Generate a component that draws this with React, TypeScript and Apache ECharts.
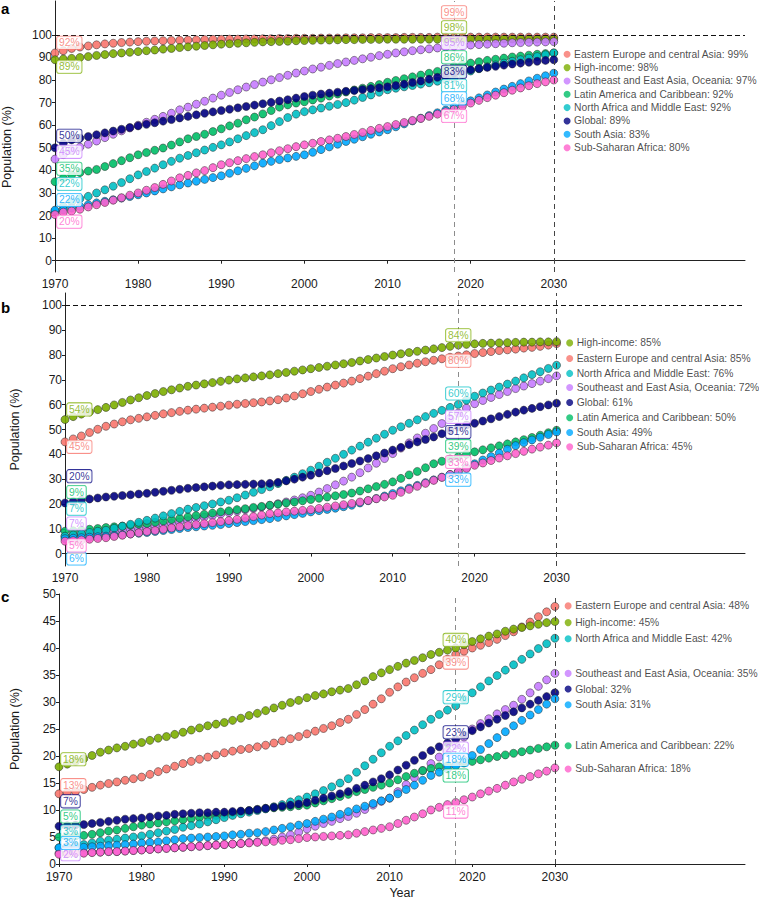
import React, { useEffect, useRef } from "react";
import * as echarts from "echarts";

const YEARS = Array.from({ length: 61 }, (_, i) => 1970 + i);
const X_TICKS = [1970, 1980, 1990, 2000, 2010, 2020, 2030];
const Y_TICKS_AB = [0, 10, 20, 30, 40, 50, 60, 70, 80, 90, 100];
const Y_TICKS_C = [0, 5, 10, 15, 20, 25, 30, 35, 40, 45, 50];
const MID_YEAR = 2018;
const END_YEAR = 2030;

const KEYS = ["EE", "HI", "SE", "LA", "NA", "GL", "SA", "SSA"];
const NAMES: Record<string, string> = {
  EE: "Eastern Europe and central Asia",
  HI: "High-income",
  SE: "Southeast and East Asia, Oceania",
  LA: "Latin America and Caribbean",
  NA: "North Africa and Middle East",
  GL: "Global",
  SA: "South Asia",
  SSA: "Sub-Saharan Africa",
};
const COLORS: Record<string, string> = {
  EE: "#F8766D",
  HI: "#7CAE00",
  SE: "#C77CFF",
  LA: "#00BE67",
  NA: "#00BFC4",
  GL: "#000080",
  SA: "#00A9FF",
  SSA: "#FF61CC",
};

// ---------- Panel a ----------
const aEE = [92,93,94,94.6,95.1,95.6,96,96.3,96.6,96.8, 97,97.2,97.3,97.4,97.5,97.6,97.7,97.8,97.9,98, 98,98.1,98.1,98.2,98.2,98.3,98.3,98.4,98.4,98.5, 98.5,98.5,98.6,98.6,98.6,98.7,98.7,98.7,98.8,98.8, 98.8,98.8,98.9,98.9,98.9,98.9,99,99,99,99, 99,99,99,99,99,99,99,99,99,99,99];
const aHI = [89,89.3,89.6,90,90.4,90.9,91.3,91.7,92,92.3, 92.6,93,93.3,93.7,94,94.4,94.7,95,95.3,95.6, 95.9,96.1,96.3,96.5,96.7,96.9,97,97.1,97.2,97.4, 97.5,97.6,97.7,97.7,97.8,97.9,97.9,98,98,98, 98.1,98.1,98.1,98.1,98.1,98.1,98.1,98.1,98.1,98.1, 98.1,98.1,98.1,98.2,98.2,98.2,98.2,98.2,98.2,98.2,98.2];
const aSE = [45,47,48.8,50.3,51.6,53,54.5,56,57.5,58.8, 60,61.3,62.6,63.9,65.3,66.8,68,69.3,70.6,72, 73.3,74.5,75.7,76.9,78,79.1,80.1,81.1,82.1,83.1, 84,84.9,85.7,86.5,87.3,88,88.7,89.4,90.1,90.8, 91.4,92,92.5,93,93.4,93.8,94.2,94.6,95,95.3, 95.5,95.7,95.9,96.1,96.3,96.5,96.6,96.7,96.8,96.9,97];
const aLA = [35,36.5,38,39,39.7,40.4,41.7,43,44.3,45.6, 46.9,47.9,48.9,49.9,51.2,52.6,54,55,56,57.2, 58.4,59.7,60.9,62.4,63.6,65,66.5,68,69,69.8, 70.4,71.2,72,72.9,73.8,74.7,75.6,76.4,77.2,78, 79,79.8,80.6,81.4,82.2,83,83.8,84.9,86,86.8, 87.5,88.1,88.7,89.2,89.7,90.2,90.6,91,91.4,91.7,92];
const aNA = [22,24,26,27.5,28.5,30,31.4,33,34.6,36.3, 38,39.5,41,42.5,44,45.4,46.6,47.8,49,50.2, 51.3,52.6,54,55.4,56.7,58,59.8,61.6,63.4,64.9, 66,66.8,67.6,68.4,69.2,70,71.1,72.3,73.4,74.6, 75.7,76.4,77,77.6,78.2,78.8,79.5,80.2,81,82.5, 84,85,85.9,86.7,87.5,88.3,89,89.7,90.4,91.2,92];
const aGL = [50,52,53.5,54.3,55,55.8,56.6,57.4,58.2,59, 59.7,60.4,61.1,61.8,62.5,63.2,63.9,64.6,65.3,65.9, 66.5,67.1,67.7,68.3,68.9,69.5,70.1,70.7,71.3,72, 72.7,73.3,73.8,74.2,74.6,75,75.4,75.8,76.2,76.6, 77,77.6,78.2,78.9,79.6,80.4,81.2,82,83,83.8, 84.5,85.1,85.6,86.1,86.6,87.1,87.5,87.9,88.3,88.7,89];
const aSA = [22.4,22.5,23.3,24,24.8,25.6,26.3,27,27.7,28.4, 29.2,30,30.9,31.8,32.7,33.6,34.4,35.2,36,36.8, 37.6,38.7,39.8,40.9,42,43.2,44,44.8,45.5,46.2, 46.9,48,49.2,50.4,51.6,52.8,53.8,54.9,56,57, 58,59.3,60.6,61.9,63.1,64.3,65.5,66.7,68,69.4, 70.8,72.1,73.4,74.7,76,77.2,78.4,79.6,80.8,81.9,83];
const aSSA = [20.4,21.5,22,22.8,23.8,24.8,25.8,26.8,27.9,29, 30,31.2,32.4,33.8,35.3,36.7,37.8,38.9,39.9,41.2, 42.5,43.4,44.3,45.2,46.1,46.9,47.8,48.7,49.6,50.5, 51.3,52,52.8,53.5,54.2,55,55.9,56.8,57.7,58.6, 59.4,60.3,61.2,62.1,63,63.9,64.9,66,67,68.4, 69.8,71,72.2,73.3,74.4,75.5,76.5,77.5,78.4,79.2,80];

// ---------- Panel b ----------
const bHI = [54,55.2,56.2,57.1,58,58.9,59.9,60.9,61.9,62.8, 63.7,64.5,65.3,66,66.7,67.4,67.9,68.4,68.9,69.4, 69.9,70.4,70.8,71.2,71.6,72,72.5,73,73.5,74, 74.5,75,75.5,76,76.5,77,77.6,78.2,78.8,79.4, 80,80.5,81,81.5,82,82.5,83,83.5,84,84.3, 84.5,84.7,84.8,84.9,85,85.1,85.2,85.2,85.3,85.3,85.4];
const bEE = [45,46.2,47.4,48.8,50.1,51.3,52.2,53.1,53.9,54.5, 55.1,55.7,56.3,56.8,57.3,57.8,58.2,58.6,59,59.4, 59.8,60.2,60.5,60.8,61.1,61.5,62,62.7,63.5,64.4, 65.3,66.2,67.1,67.9,68.7,69.5,70.5,71.5,72.5,73.5, 74.5,75.3,76,76.7,77.3,77.9,78.5,79.1,79.6,80.1, 80.6,81,81.4,81.8,82.1,82.4,82.8,83.1,83.5,84,84.6];
const bGL = [20.4,21,21.5,22,22.4,22.8,23.1,23.4,23.7,24, 24.3,24.7,25.1,25.5,25.9,26.3,26.6,26.9,27.2,27.5, 27.7,27.8,27.9,28,28.1,28.3,28.7,29.3,30,30.8, 31.6,32.5,33.4,34.3,35.3,36.3,37.3,38.3,39.4,40.5, 41.7,42.8,43.9,45,46,47,48.3,49.7,51,51.8, 52.5,53.4,54.3,55.2,56.1,57,57.8,58.5,59.2,59.9,60.6];
const bNA = [7,7.5,8,8.5,9,9.4,10.2,11,11.8,12.6, 13.4,14.3,15.2,16.1,17,17.9,18.6,19.3,20,20.8, 21.5,22.5,23.6,24.7,25.8,26.9,28.2,29.5,30.8,32.2, 33.6,35.2,36.8,38.4,40,41.7,43.3,44.9,46.5,48.1, 49.7,51.1,52.5,53.9,55.2,56.5,57.7,58.9,60.1,61.8, 63.4,64.7,65.9,67.1,68.3,69.5,70.8,72.1,73.3,74.6,75.9];
const bSE = [7,7.3,7.6,7.9,8.2,8.5,8.9,9.3,9.7,10.1, 10.5,11,11.5,12.1,12.7,13.3,14,14.7,15.3,15.9, 16.5,17.1,17.7,18.2,18.8,19.4,20.1,20.8,21.6,22.5, 23.5,24.8,26.2,27.7,29.2,30.8,32.6,34.5,36.4,38.3, 40.3,42.5,44.6,46.6,48.5,50.4,52.4,54.5,56.6,58.6, 60.4,61.7,62.9,64.1,65.3,66.5,67.5,68.5,69.5,70.5,71.6];
const bLA = [9,9.2,9.4,9.8,10.1,10.5,10.8,11.1,11.4,11.8, 12.1,12.6,13.1,13.7,14.2,14.8,15.3,15.8,16.3,16.8, 17.2,17.7,18.1,18.6,19,19.5,19.9,20.4,20.8,21.3, 21.8,22.3,22.8,23.3,23.8,24.4,25.2,26.1,27,27.9, 28.9,30.3,31.7,33.1,34.6,36.2,37.2,38.1,39,40, 41,41.8,42.6,43.4,44.2,45,45.9,46.8,47.7,48.7,49.7];
const bSA = [6,6.2,6.4,6.6,6.8,7,7.3,7.6,7.9,8.2, 8.5,8.9,9.3,9.7,10.1,10.5,10.8,11.1,11.4,11.7, 12.1,12.5,12.9,13.3,13.7,14.1,14.6,15.2,15.7,16.2, 16.8,17.3,17.8,18.3,18.9,19.5,20.4,21.3,22.2,23.2, 24.2,25.3,26.4,27.5,28.6,29.7,30.8,31.9,33,34.6, 36.2,37.7,39.1,40.5,42,43.5,44.7,45.8,46.9,48,49];
const bSSA = [5,5.2,5.5,5.8,6.1,6.4,6.9,7.4,7.9,8.4, 8.9,9.3,9.8,10.3,10.8,11.3,11.7,12.1,12.5,12.9, 13.3,13.8,14.3,14.9,15.5,16.1,16.4,16.8,17.1,17.4, 17.7,18.2,18.7,19.2,19.7,20.2,20.8,21.4,22.1,22.8, 23.5,24.7,25.9,27.1,28.3,29.5,30.7,31.9,33,34.3, 35.6,36.5,37.5,38.5,39.4,40.3,41.2,42.1,42.9,43.7,44.6];

// ---------- Panel c ----------
const cHI = [18,18.5,19,19.5,20.1,20.7,21.1,21.5,21.8,22.2, 22.5,22.9,23.3,23.6,24,24.4,24.8,25.2,25.6,25.9, 26.2,26.6,27,27.5,27.9,28.4,28.9,29.4,29.9,30.3, 30.8,31.2,31.5,31.9,32.2,32.5,33.2,33.9,34.7,35.4, 36,36.6,37.2,37.7,38.2,38.8,39.2,39.6,40,40.6, 41.2,41.7,42.2,42.6,43.1,43.5,43.8,44.1,44.4,44.7,44.9];
const cEE = [13,13.2,13.4,13.8,14.2,14.6,14.9,15.2,15.5,15.8, 16.1,16.6,17.1,17.6,18.1,18.6,19,19.4,19.8,20.2, 20.6,20.9,21.2,21.4,21.7,22,22.4,22.8,23.2,23.6, 24.1,24.6,25.1,25.6,26.2,26.8,27.7,28.6,29.6,30.6, 31.8,32.8,33.7,34.5,35.3,36,36.9,37.9,38.8,39.4, 40,40.5,41,41.6,42.3,43,43.9,44.8,45.8,46.7,47.7];
const cNA = [3,3.2,3.4,3.6,3.9,4.2,4.4,4.6,4.8,5, 5.2,5.5,5.8,6.1,6.4,6.8,7.1,7.4,7.8,8.2, 8.6,9,9.3,9.6,9.9,10.2,10.6,11,11.5,11.9, 12.4,13,13.6,14.3,15,15.8,17,18.2,19.4,20.6, 21.8,22.8,23.8,24.8,25.8,26.8,27.7,28.5,29.3,30.5, 31.7,32.8,33.9,34.9,35.9,36.9,37.9,38.9,39.9,40.8,41.8];
const cGL = [7,7.1,7.2,7.3,7.5,7.7,7.9,8.1,8.3,8.4, 8.5,8.7,8.9,9,9.2,9.3,9.4,9.5,9.5,9.6, 9.6,9.7,9.8,9.9,10.1,10.3,10.5,10.7,10.9,11.1, 11.4,11.8,12.2,12.6,13,13.4,14,14.6,15.2,15.8, 16.5,17.4,18.3,19.2,20.1,21,21.7,22.4,23.1,23.9, 24.7,25.4,26.1,26.8,27.5,28.2,28.9,29.6,30.3,31,31.7];
const cLA = [5,5.1,5.2,5.3,5.5,5.8,6.1,6.3,6.6,6.9, 7.2,7.4,7.6,7.8,8,8.2,8.4,8.6,8.8,9, 9.2,9.5,9.7,9.9,10.1,10.3,10.4,10.5,10.6,10.8, 10.9,11.3,11.7,12.1,12.5,12.9,13.4,13.8,14.2,14.6, 15,15.6,16.2,16.8,17.3,17.7,18,18.2,18.4,18.7, 19,19.3,19.6,19.9,20.2,20.5,20.8,21.1,21.4,21.7,22];
const cSA = [3,3,3.1,3.1,3.2,3.3,3.4,3.5,3.6,3.7, 3.9,4,4.1,4.3,4.5,4.7,4.8,4.9,5,5.1, 5.2,5.4,5.5,5.7,5.8,6,6.3,6.6,6.9,7.2, 7.5,7.9,8.3,8.7,9.2,9.7,10.2,10.7,11.2,11.7, 12.2,13,13.8,14.6,15.5,16.4,17,17.6,18.2,19.2, 20.1,21.2,22.3,23.4,24.5,25.6,26.6,27.6,28.6,29.6,30.6];
const cSE = [2,2,2.1,2.1,2.2,2.2,2.3,2.3,2.4,2.5, 2.6,2.7,2.8,2.9,3,3.1,3.2,3.3,3.4,3.5, 3.6,3.7,3.8,4,4.1,4.3,4.6,5,5.4,5.9, 6.5,7,7.5,7.9,8.4,8.8,9.4,10.1,10.9,11.6, 12.2,13.4,14.7,16,17.3,18.6,19.8,20.9,22,23.5, 25,26,26.9,27.8,28.6,29.4,30.5,31.7,32.9,34.1,35.3];
const cSSA = [1.8,1.9,2,2,2.1,2.2,2.3,2.3,2.4,2.5, 2.6,2.7,2.8,2.9,3,3.1,3.2,3.3,3.4,3.5, 3.6,3.7,3.8,3.9,4,4.1,4.2,4.4,4.5,4.7, 4.9,5,5.1,5.2,5.3,5.4,5.7,6,6.3,6.6, 6.9,7.5,8.1,8.7,9.3,10,10.5,11,11.4,11.9, 12.4,13,13.5,14,14.6,15.2,15.7,16.2,16.7,17.2,17.8];

// Repelled label anchors (data units on each panel's y axis)
const aStartLabelAt: Record<string, number | null> = { EE: 96.5, HI: 85.9, SE: 48.2, LA: 40.7, NA: 34.0, GL: 55.3, SA: 26.9, SSA: 17.3 };
const aMidLabelAt: Record<string, number | null> = { EE: 110, HI: 103.4, SE: 96.5, LA: 90.1, NA: 77.5, GL: 83.7, SA: 71.9, SSA: 64.1 };
const aLegendAt: Record<string, number> = { EE: 91.4, HI: 85.5, SE: 79.6, LA: 73.7, NA: 67.8, GL: 61.9, SA: 56.0, SSA: 50.0 };

const bStartLabelAt: Record<string, number | null> = { EE: 43, HI: 58.1, SE: 12.1, LA: 24.8, NA: 18.1, GL: 31.2, SA: -2, SSA: 3.3 };
const bMidLabelAt: Record<string, number | null> = { EE: 77.7, HI: 88, SE: 55.1, LA: 43.3, NA: 64.5, GL: 49, SA: 29.8, SSA: 36.9 };
const bLegendAt: Record<string, number> = { EE: 78.6, HI: 84.9, SE: 66.9, LA: 54.7, NA: 72.6, GL: 60.9, SA: 48.8, SSA: 43.0 };

const cStartLabelAt: Record<string, number | null> = { EE: 14.6, HI: 19.4, SE: 1.8, LA: 8.8, NA: 6.0, GL: 11.6, SA: 3.9, SSA: null };
const cMidLabelAt: Record<string, number | null> = { EE: 37.3, HI: 41.5, SE: 21.4, LA: 16.4, NA: 30.9, GL: 24.4, SA: 19.3, SSA: 9.7 };
const cLegendAt: Record<string, number> = { EE: 47.8, HI: 44.7, SE: 35.3, LA: 21.9, NA: 41.7, GL: 32.4, SA: 29.5, SSA: 17.6 };

const FONT = "'Liberation Sans', Arial, Helvetica, sans-serif";
const Y_TITLE = "Population (%)";

type Panel = {
  letter: string;
  values: Record<string, number[]>;
  startAt: Record<string, number | null>;
  midAt: Record<string, number | null>;
  legendAt: Record<string, number>;
  yMin: number;
  yMax: number;
  yTicks: number[];
  grid: { left: number; top: number; width: number; height: number };
  nameGap: number;
  hundred: boolean;
  showYear: boolean;
  letterTop: number;
  xLabelMargin: number;
  titleAsGraphic?: { x: number; y: number };
};

const PANELS: Panel[] = [
  {
    letter: "a",
    values: { EE: aEE, HI: aHI, SE: aSE, LA: aLA, NA: aNA, GL: aGL, SA: aSA, SSA: aSSA },
    startAt: aStartLabelAt, midAt: aMidLabelAt, legendAt: aLegendAt,
    yMin: -5, yMax: 115, yTicks: Y_TICKS_AB,
    grid: { left: 55, top: 1, width: 690, height: 271 },
    nameGap: 44, hundred: true, showYear: false, letterTop: 1, xLabelMargin: 6,
    titleAsGraphic: { x: 7, y: 147 },
  },
  {
    letter: "b",
    values: { EE: bEE, HI: bHI, SE: bSE, LA: bLA, NA: bNA, GL: bGL, SA: bSA, SSA: bSSA },
    startAt: bStartLabelAt, midAt: bMidLabelAt, legendAt: bLegendAt,
    yMin: -5, yMax: 105, yTicks: Y_TICKS_AB,
    grid: { left: 55, top: 293, width: 690, height: 273 },
    nameGap: 44, hundred: true, showYear: false, letterTop: 300, xLabelMargin: 6,
  },
  {
    letter: "c",
    values: { EE: cEE, HI: cHI, SE: cSE, LA: cLA, NA: cNA, GL: cGL, SA: cSA, SSA: cSSA },
    startAt: cStartLabelAt, midAt: cMidLabelAt, legendAt: cLegendAt,
    yMin: 0, yMax: 50, yTicks: Y_TICKS_C,
    grid: { left: 48.5, top: 594, width: 696.5, height: 272 },
    nameGap: 38, hundred: false, showYear: true, letterTop: 589, xLabelMargin: 7,
  },
];

function boxLabel(color: string, text: string, position: string) {
  return {
    show: true,
    position,
    distance: 2,
    formatter: text,
    color,
    fontSize: 10.3,
    fontFamily: FONT,
    lineHeight: 10,
    backgroundColor: "#ffffff",
    borderColor: color,
    borderWidth: 0.8,
    borderRadius: 2,
    padding: [1.5, 2, 1, 2],
  };
}

function buildOption() {
  const series: any[] = [];
  const xAxis: any[] = [];
  const yAxis: any[] = [];
  const grid: any[] = [];
  const graphic: any[] = [];
  const midIdx = YEARS.indexOf(MID_YEAR);
  const endIdx = YEARS.indexOf(END_YEAR);

  PANELS.forEach((p, pi) => {
    grid.push({ ...p.grid, containLabel: false });
    xAxis.push({
      type: "value",
      gridIndex: pi,
      min: 1970,
      max: 2053,
      name: p.showYear ? "Year" : "",
      nameLocation: "middle",
      nameGap: 22,
      nameTextStyle: { fontSize: 12.5, color: "#1a1a1a", fontFamily: FONT },
      axisLine: { show: true, lineStyle: { color: "#222", width: 1 } },
      axisTick: { show: true, length: 3, customValues: X_TICKS, lineStyle: { color: "#222" } },
      axisLabel: {
        customValues: X_TICKS,
        formatter: (v: number) => String(v),
        fontSize: 12,
        lineHeight: 12,
        color: "#1a1a1a",
        margin: p.xLabelMargin,
        fontFamily: FONT,
      },
      splitLine: { show: false },
    });
    yAxis.push({
      type: "value",
      gridIndex: pi,
      min: p.yMin,
      max: p.yMax,
      name: p.titleAsGraphic ? "" : Y_TITLE,
      nameLocation: "middle",
      nameGap: p.nameGap,
      nameTextStyle: { fontSize: 12.5, color: "#1a1a1a", fontFamily: FONT },
      axisLine: { show: true, lineStyle: { color: "#222", width: 1 } },
      axisTick: { show: true, length: 3, customValues: p.yTicks, lineStyle: { color: "#222" } },
      axisLabel: {
        customValues: p.yTicks,
        formatter: (v: number) => String(v),
        fontSize: 12,
        lineHeight: 10,
        color: "#1a1a1a",
        margin: 3,
        fontFamily: FONT,
      },
      splitLine: { show: false },
    });
    if (p.titleAsGraphic) {
      graphic.push({
        type: "text",
        x: p.titleAsGraphic.x,
        y: p.titleAsGraphic.y,
        rotation: Math.PI / 2,
        style: {
          text: Y_TITLE,
          fontSize: 12.5,
          fill: "#1a1a1a",
          fontFamily: FONT,
          align: "center",
          verticalAlign: "middle",
        },
      });
    }

    // reference lines
    const ml: any[] = [
      { xAxis: MID_YEAR, lineStyle: { color: "#8c8c8c", type: [5, 4], width: 1 } },
      { xAxis: END_YEAR, lineStyle: { color: "#444", type: [5, 4], width: 1 } },
    ];
    if (p.hundred) ml.push({ yAxis: 100, lineStyle: { color: "#111", type: [5, 3], width: 1 } });
    series.push({
      type: "line",
      name: `ref-${p.letter}`,
      xAxisIndex: pi,
      yAxisIndex: pi,
      data: [],
      silent: true,
      z: 1,
      markLine: { symbol: ["none", "none"], silent: true, label: { show: false }, data: ml, animation: false },
    });

    // dots
    KEYS.forEach((k) => {
      const vals = p.values[k];
      series.push({
        type: "scatter",
        name: `${NAMES[k]} (${p.letter})`,
        xAxisIndex: pi,
        yAxisIndex: pi,
        data: YEARS.map((y, i) => [y, vals[i]]),
        symbol: "circle",
        symbolSize: 8,
        clip: false,
        silent: true,
        z: 3,
        itemStyle: { color: COLORS[k], opacity: 0.9, borderColor: "rgba(30,30,30,0.75)", borderWidth: 0.7 },
      });
    });

    // start-year labels
    series.push({
      type: "scatter",
      name: `start-labels-${p.letter}`,
      xAxisIndex: pi,
      yAxisIndex: pi,
      symbolSize: 0,
      silent: true,
      clip: false,
      z: 10,
      data: KEYS.filter((k) => p.startAt[k] != null).map((k) => ({
        value: [YEARS[0], p.startAt[k]],
        label: boxLabel(COLORS[k], `${Math.round(p.values[k][0])}%`, "right"),
      })),
    });
    // 2018 labels
    series.push({
      type: "scatter",
      name: `mid-labels-${p.letter}`,
      xAxisIndex: pi,
      yAxisIndex: pi,
      symbolSize: 0,
      silent: true,
      clip: false,
      z: 10,
      data: KEYS.filter((k) => p.midAt[k] != null).map((k) => ({
        value: [MID_YEAR, p.midAt[k]],
        label: boxLabel(COLORS[k], `${Math.round(p.values[k][midIdx])}%`, "inside"),
      })),
    });
    // legend entries (placed right of 2030)
    series.push({
      type: "scatter",
      name: `legend-${p.letter}`,
      xAxisIndex: pi,
      yAxisIndex: pi,
      symbol: "circle",
      symbolSize: 7,
      silent: true,
      clip: false,
      z: 10,
      data: KEYS.map((k) => ({
        value: [2031.6, p.legendAt[k]],
        itemStyle: { color: COLORS[k] },
        label: {
          show: true,
          position: "right",
          distance: 3.5,
          formatter: `${NAMES[k]}: ${Math.round(p.values[k][endIdx])}%`,
          color: "#1a1a1a",
          fontSize: 10.3,
          fontFamily: FONT,
        },
      })),
    });

    graphic.push({
      type: "text",
      left: 1,
      top: p.letterTop,
      style: { text: p.letter, fontSize: 15, fontWeight: "bold", fill: "#000", fontFamily: FONT },
    });
  });

  return {
    animation: false,
    backgroundColor: "#ffffff",
    textStyle: { fontFamily: FONT },
    grid,
    xAxis,
    yAxis,
    series,
    graphic,
  };
}

export default function App() {
  const ref = useRef<HTMLDivElement>(null);
  useEffect(() => {
    document.body.style.margin = "0";
    const chart = echarts.init(ref.current as HTMLDivElement, null, { renderer: "svg" });
    chart.setOption(buildOption() as any);
    return () => chart.dispose();
  }, []);
  return <div ref={ref} style={{ width: 759, height: 900 }} />;
}
